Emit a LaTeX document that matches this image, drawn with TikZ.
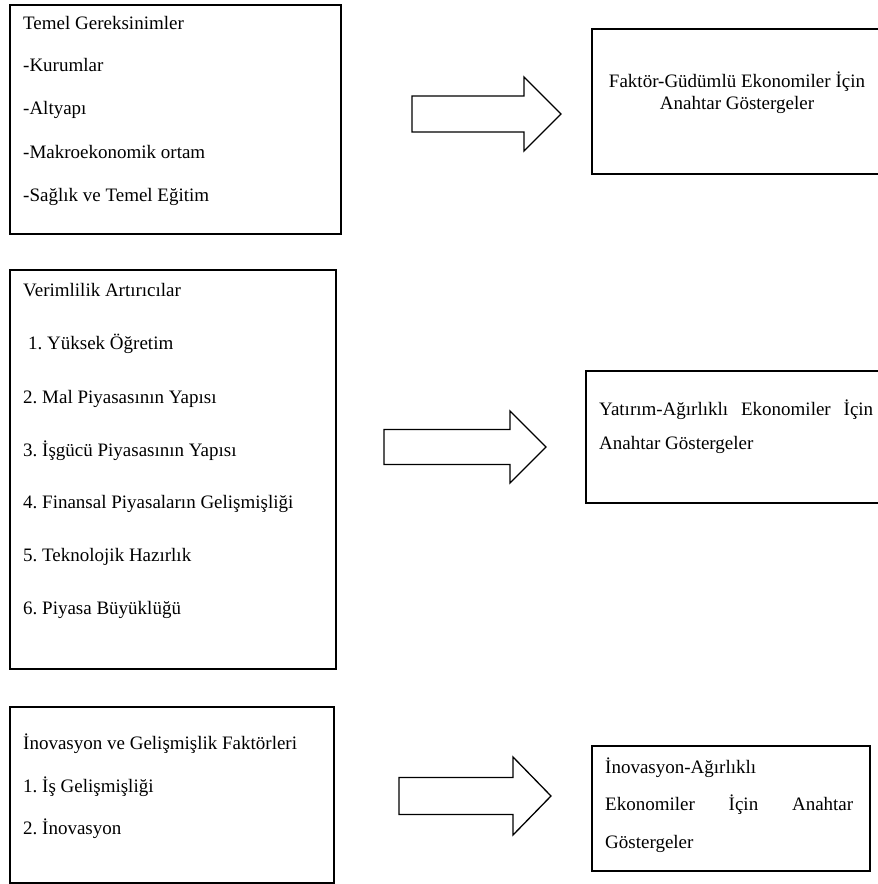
\documentclass[tikz,border=0pt]{standalone}
\usepackage{fontspec}
\setmainfont{Liberation Serif}

\begin{document}
\begin{tikzpicture}[x=1pt, y=-1pt,
  kutu/.style={draw, line width=1.5pt, inner sep=0pt, anchor=north west},
  yazi/.style={inner sep=0pt, anchor=base west, font=\fontsize{19}{22}\selectfont\frenchspacing},
  blokok/.style={draw, line width=1.3pt, line join=miter}]
\useasboundingbox (0,0) rectangle (878,884);
\clip (0,0) rectangle (878,884);
% sol kutular
\node[kutu, minimum width=331pt, minimum height=229pt] (temel) at (9,4) {};
\node[kutu, minimum width=326pt, minimum height=399pt] (verim) at (9,269) {};
\node[kutu, minimum width=324pt, minimum height=176pt] (inov) at (9,706) {};
% sag kutular
\node[kutu, minimum width=290pt, minimum height=145pt] (faktor) at (591,28) {};
\node[kutu, minimum width=296pt, minimum height=132pt] (yatirim) at (585,370) {};
\node[kutu, minimum width=278pt, minimum height=125pt] (inovagir) at (591,745) {};
% oklar
\draw[blokok] (412,96) -- (524,96) -- (524,77) -- (561,114) -- (524,151) -- (524,132) -- (412,132) -- cycle;
\draw[blokok] (384,429.5) -- (510,429.5) -- (510,411) -- (546,447) -- (510,483) -- (510,464.5) -- (384,464.5) -- cycle;
\draw[blokok] (399,777.5) -- (513,777.5) -- (513,757) -- (551,796) -- (513,835) -- (513,814.5) -- (399,814.5) -- cycle;
% yazilar
\node[yazi] (tem1) at (23,29) {Temel Gereksinimler};
\node[yazi] (tem2) at (23,71) {-Kurumlar};
\node[yazi] (tem3) at (23,114) {-Altyapı};
\node[yazi] (tem4) at (23,158) {-Makroekonomik ortam};
\node[yazi] (tem5) at (23,201) {-Sağlık ve Temel Eğitim};
\node[yazi] (ver1) at (23,296) {Verimlilik Artırıcılar};
\node[yazi] (ver2) at (28,349) {1. Yüksek Öğretim};
\node[yazi] (ver3) at (23,403) {2. Mal Piyasasının Yapısı};
\node[yazi] (ver4) at (23,456) {3. İşgücü Piyasasının Yapısı};
\node[yazi] (ver5) at (23,508) {4. Finansal Piyasaların Gelişmişliği};
\node[yazi] (ver6) at (23,561) {5. Teknolojik Hazırlık};
\node[yazi] (ver7) at (23,614) {6. Piyasa Büyüklüğü};
\node[yazi] (ino1) at (23,749) {İnovasyon ve Gelişmişlik Faktörleri};
\node[yazi] (ino2) at (23,792) {1. İş Gelişmişliği};
\node[yazi] (ino3) at (23,834) {2. İnovasyon};
\node[yazi, anchor=base] (fak1) at (737,87) {Faktör-Güdümlü Ekonomiler İçin};
\node[yazi, anchor=base] (fak2) at (737,109) {Anahtar Göstergeler};
\node[yazi] (yat1) at (599,415) {\makebox[274pt][s]{Yatırım-Ağırlıklı Ekonomiler İçin}};
\node[yazi] (yat2) at (599,449) {Anahtar Göstergeler};
\node[yazi] (ina1) at (605,773) {İnovasyon-Ağırlıklı};
\node[yazi] (ina2) at (605,810) {\makebox[248pt][s]{Ekonomiler İçin Anahtar}};
\node[yazi] (ina3) at (605,848) {Göstergeler};
\end{tikzpicture}
\end{document}
